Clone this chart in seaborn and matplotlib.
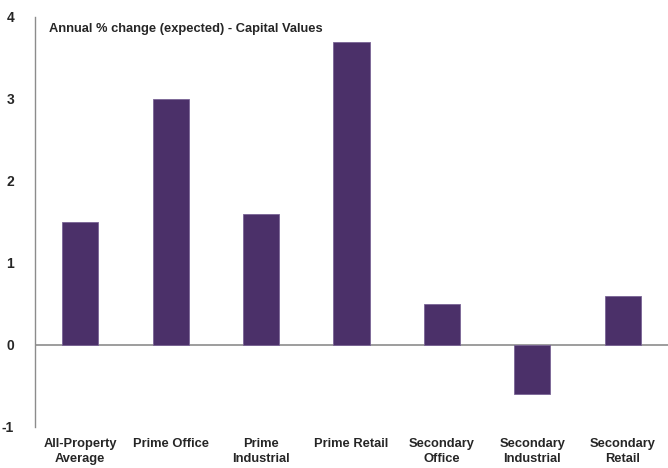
import matplotlib
matplotlib.use("Agg")
import matplotlib.pyplot as plt
import seaborn as sns

categories = ["All-Property\nAverage", "Prime Office", "Prime\nIndustrial", "Prime Retail",
              "Secondary\nOffice", "Secondary\nIndustrial", "Secondary\nRetail"]
values = [1.5, 3.0, 1.6, 3.7, 0.5, -0.6, 0.6]
yticks = [-1, 0, 1, 2, 3, 4]

sns.set_style("white")
plt.rcParams['font.family'] = ['Liberation Sans', 'DejaVu Sans']

fig = plt.figure(figsize=(6.68, 4.68), dpi=100)
ax = fig.add_axes([35 / 668, 1 - 427 / 468, 1 - 35 / 668, (427 - 17) / 468])

sns.barplot(x=categories, y=values, color="#4B3069", saturation=1, width=0.4,
            edgecolor="#7A6496", linewidth=0.6, ax=ax)

ax.set_ylim(-1, 4)
ax.set_xlim(-0.5, 6.5)
ax.set_yticks(yticks)
ax.set_yticklabels([str(t) for t in yticks], fontsize=10, fontweight="bold")
ax.tick_params(axis="y", length=0, pad=15)
ax.tick_params(axis="x", length=0, pad=8)
for lbl in ax.get_xticklabels():
    lbl.set_fontsize(9.3)
    lbl.set_fontweight("bold")
    lbl.set_linespacing(1.3)

ax.axhline(0, color="#8C8C8C", linewidth=1.2, zorder=0)
for s in ["top", "right", "bottom"]:
    ax.spines[s].set_visible(False)
ax.spines["left"].set_color("#8C8C8C")
ax.spines["left"].set_linewidth(1.0)

ax.text(0.022, 0.985, "Annual % change (expected) - Capital Values", transform=ax.transAxes,
        fontsize=9.3, fontweight="bold", va="top", ha="left")

fig.savefig("out.png", dpi=100)
